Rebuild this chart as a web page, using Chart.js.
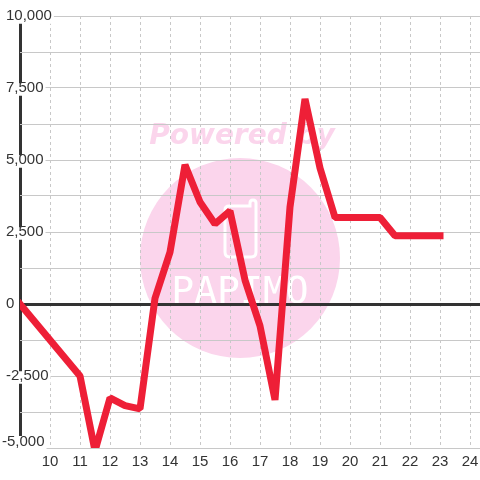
<!DOCTYPE html>
<html>
<head>
<meta charset="utf-8">
<style>
html, body { margin: 0; padding: 0; background: #fff; }
#wrap { width: 480px; height: 480px; }
</style>
<script src="https://cdn.jsdelivr.net/npm/chart.js@4"></script>
</head>
<body>
<div id="wrap"><canvas id="grafico" width="480" height="480"></canvas></div>
<script>
// valores
const xValores = [9, 11, 11.5, 12, 12.5, 13, 13.5, 14, 14.5, 15, 15.5, 16, 16.5, 17, 17.5, 18, 18.5, 19, 19.5, 20, 20.5, 21, 21.5, 22, 22.5, 23];
const yValores = [0, -2500, -5100, -3260, -3530, -3640, 200, 1800, 4830, 3540, 2780, 3230, 830, -760, -3330, 3370, 7120, 4720, 3000, 3000, 3000, 3000, 2370, 2370, 2370, 2370];
const rotulosY = [-2500, 0, 2500, 5000, 7500, 10000];
const rotuloBase = -5000;

const corTexto = '#333333';
const corGrade = '#c8c8c8';
const corEixo = '#333333';
const corLinha = '#ee1f37';
const corMarca = '#fbd5ec';
const fonteEixo = '"Liberation Sans"';

// marca d'agua atras da grade
const marcaDagua = {
    id: 'marcaDagua',
    beforeDraw(chart) {
        const c = chart.ctx;
        c.save();
        c.fillStyle = '#ffffff';
        c.fillRect(0, 0, chart.width, chart.height);
        c.fillStyle = corMarca;
        c.font = 'italic bold 28px "DejaVu Sans"';
        c.textAlign = 'center';
        c.textBaseline = 'alphabetic';
        c.fillText('Powered by', 242, 144);
        c.beginPath();
        c.arc(240, 258, 100, 0, Math.PI * 2);
        c.fill();
        // desenho do copo
        c.strokeStyle = '#ffffff';
        c.lineWidth = 3;
        c.beginPath();
        c.moveTo(225, 210);
        c.quadraticCurveTo(225, 206, 229, 206);
        c.lineTo(250, 206);
        c.lineTo(250, 203);
        c.quadraticCurveTo(250, 200, 253, 200);
        c.quadraticCurveTo(256, 200, 256, 203);
        c.lineTo(256, 252);
        c.quadraticCurveTo(256, 257, 251, 257);
        c.lineTo(230, 257);
        c.quadraticCurveTo(225, 257, 225, 252);
        c.closePath();
        c.stroke();
        c.fillStyle = '#ffffff';
        c.font = '38px "DejaVu Sans Mono"';
        c.fillText('PAPIMO', 240, 303);
        c.restore();
    }
};

// o rotulo de baixo fica acima da sua linha, o que o tick nao permite
const rotuloInferior = {
    id: 'rotuloInferior',
    beforeDatasetsDraw(chart) {
        const c = chart.ctx;
        const y = chart.scales.y.getPixelForValue(rotuloBase);
        const txt = rotuloBase.toLocaleString('en-US');
        c.save();
        c.font = '15px ' + fonteEixo;
        c.fillStyle = '#ffffff';
        c.fillRect(2, y - 12, c.measureText(txt).width + 2, 13);
        c.fillStyle = corTexto;
        c.textAlign = 'left';
        c.textBaseline = 'middle';
        c.fillText(txt, 2, y - 6);
        c.restore();
    }
};

new Chart(document.getElementById('grafico').getContext('2d'), {
    type: 'line',
    data: {
        datasets: [{
            data: xValores.map((x, i) => ({ x: x, y: yValores[i] })),
            borderColor: corLinha,
            borderWidth: 7,
            borderJoinStyle: 'bevel',
            borderCapStyle: 'square',
            pointRadius: 0,
            tension: 0
        }]
    },
    options: {
        responsive: false,
        animation: false,
        layout: { padding: { left: 20, top: 16, right: 0, bottom: 0 } },
        plugins: { legend: { display: false }, tooltip: { enabled: false } },
        scales: {
            x: {
                type: 'linear',
                min: 9,
                max: 24.3333,
                afterFit: s => { s.height = 32; s.paddingLeft = 0; s.paddingRight = 0; },
                grid: {
                    drawTicks: false,
                    // a linha do x=9 faz o papel do eixo vertical
                    color: ctx => (ctx.tick.value === 9 ? corEixo : corGrade),
                    lineWidth: ctx => (ctx.tick.value === 9 ? 3 : 1)
                },
                border: {
                    display: false,
                    dash: ctx => (ctx.tick && ctx.tick.value === 9 ? [] : [3, 3])
                },
                ticks: {
                    stepSize: 1,
                    includeBounds: false,
                    autoSkip: false,
                    maxRotation: 0,
                    padding: 5,
                    color: corTexto,
                    font: { family: fonteEixo, size: 15 },
                    callback: v => (v === 9 ? '' : String(v))
                }
            },
            y: {
                min: -5000,
                max: 10000,
                afterFit: s => { s.width = 0; },
                grid: {
                    drawTicks: false,
                    color: ctx => (ctx.tick.value === 0 ? corEixo : corGrade),
                    lineWidth: ctx => (ctx.tick.value === 0 ? 3 : 1)
                },
                border: { display: false },
                ticks: {
                    stepSize: 1250,
                    autoSkip: false,
                    mirror: true,
                    padding: -14,
                    color: corTexto,
                    font: { family: fonteEixo, size: 15, lineHeight: 0.9 },
                    showLabelBackdrop: ctx => rotulosY.includes(ctx.tick.value),
                    backdropColor: '#ffffff',
                    backdropPadding: { top: -2, bottom: 1, left: 0, right: 2 },
                    callback: v => (rotulosY.includes(v) ? v.toLocaleString('en-US') : '')
                }
            }
        }
    },
    plugins: [marcaDagua, rotuloInferior]
});
</script>
</body>
</html>
